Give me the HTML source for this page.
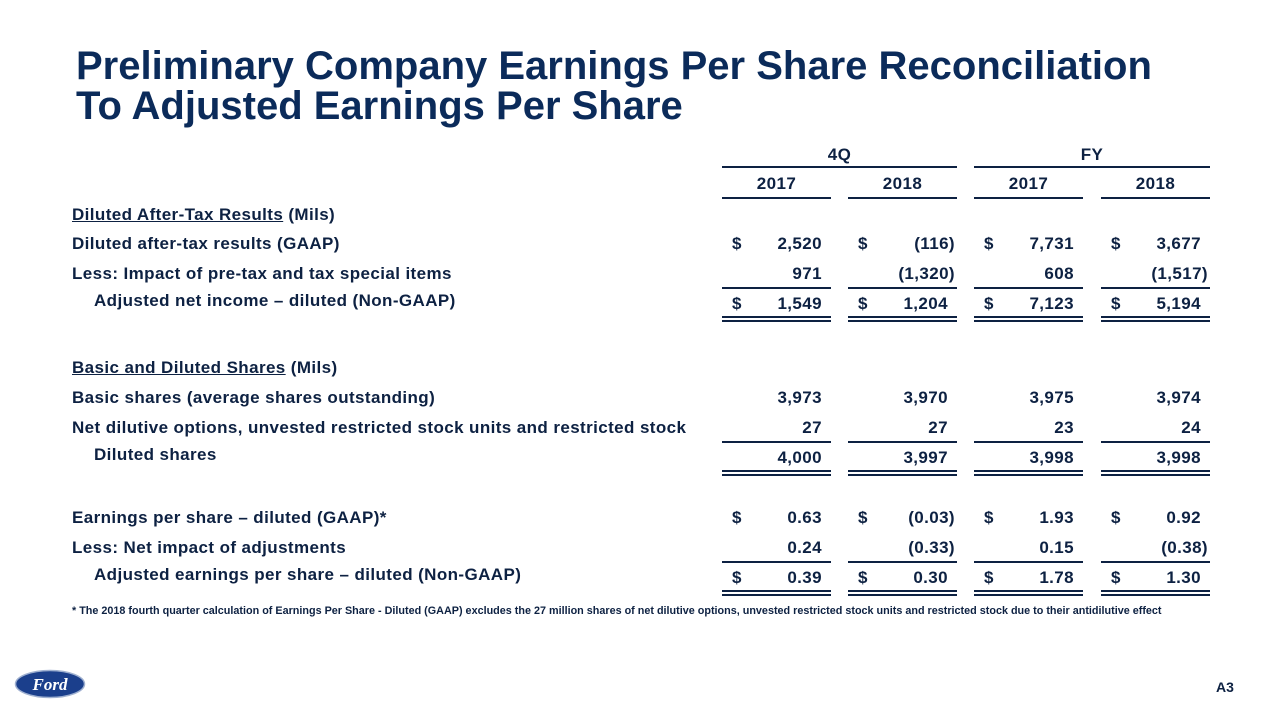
<!DOCTYPE html>
<html><head><meta charset="utf-8"><style>
body{margin:0;width:1280px;height:720px;background:#fff;position:relative;overflow:hidden;font-family:"Liberation Sans",Arial,sans-serif;font-weight:bold;color:#0d2142}
.t{position:absolute;font-size:40px;color:#0b2b5a;left:76px;line-height:44px;letter-spacing:0px}
.a{position:absolute;font-size:17px;letter-spacing:0.4px;line-height:20px;white-space:nowrap}
.ln{position:absolute;height:2px;background:#0d2142}
.r{text-align:right}
.c{text-align:center}
</style></head><body>
<div class="t" style="top:44px">Preliminary Company Earnings Per Share Reconciliation</div>
<div class="t" style="top:84px">To Adjusted Earnings Per Share</div>
<div id="tbl"></div>
<div class="a" style="left:72px;top:601px;font-size:10.8px;letter-spacing:0">* The 2018 fourth quarter calculation of Earnings Per Share - Diluted (GAAP) excludes the 27 million shares of net dilutive options, unvested restricted stock units and restricted stock due to their antidilutive effect</div>
<svg style="position:absolute;left:14px;top:669px" width="72" height="30"><ellipse cx="36" cy="15" rx="34.5" ry="13.5" fill="#1b3f8c" stroke="#9fb0d0" stroke-width="1.5"/><text x="36" y="21" text-anchor="middle" fill="#fff" font-family="Liberation Serif,serif" font-style="italic" font-weight="bold" font-size="17">Ford</text></svg>
<div class="a" style="left:1216px;top:677px;font-size:14px;letter-spacing:0">A3</div>
<script>
const colLeft=[722,848,974,1101], colW=109;
const groups=["4Q","FY"];
const years=["2017","2018","2017","2018"];
const labels=["Diluted after-tax results (GAAP)","Less:  Impact of pre-tax and tax special items","Adjusted net income – diluted (Non-GAAP)","Basic shares (average shares outstanding)","Net dilutive options, unvested restricted stock units and restricted stock","Diluted shares","Earnings per share – diluted (GAAP)*","Less:  Net impact of adjustments","Adjusted earnings per share – diluted (Non-GAAP)"];
const values=[["2,520","(116)","7,731","3,677"],["971","(1,320)","608","(1,517)"],["1,549","1,204","7,123","5,194"],["3,973","3,970","3,975","3,974"],["27","27","23","24"],["4,000","3,997","3,998","3,998"],["0.63","(0.03)","1.93","0.92"],["0.24","(0.33)","0.15","(0.38)"],["0.39","0.30","1.78","1.30"]];
const rowY=[244,274,304,398,428,458,518,548,578];
const indent=[0,0,1,0,0,1,0,0,1];
const dollar=[1,0,1,0,0,0,1,0,1];
const T=document.getElementById('tbl');
function add(cls,txt,l,t,w,name){const d=document.createElement('div');d.className=cls;d.textContent=txt;d.style.left=l+'px';d.style.top=t+'px';if(w)d.style.width=w+'px';


T.appendChild(d);return d;}
function line(l,t,w,name){const d=document.createElement('div');d.className='ln';d.style.left=l+'px';d.style.top=t+'px';d.style.width=w+'px';


T.appendChild(d);}
groups.forEach((g,i)=>{const l=colLeft[i*2],w=colLeft[i*2+1]+colW-l;add('a c',g,l,145,w,'group-header-'+g.toLowerCase());line(l,166,w,'group-rule');});
years.forEach((y,i)=>{add('a c',y,colLeft[i],174,colW,'year-header');line(colLeft[i],197,colW,'year-rule');});
const h1=add('a','',72,205,0,'section-header-after-tax');h1.innerHTML='<u>Diluted After-Tax Results</u> (Mils)';
const h2=add('a','',72,358,0,'section-header-shares');h2.innerHTML='<u>Basic and Diluted Shares</u> (Mils)';
labels.forEach((lb,r)=>{const y=rowY[r]-10;add('a',lb,indent[r]?94:72,y-(indent[r]?3:0),0,'row-label');
values[r].forEach((v,c)=>{const paren=v.startsWith('(');const right=colLeft[c]+colW-(paren?2:9);
if(dollar[r])add('a','$',colLeft[c]+10,y,0,'dollar-sign');
add('a r',v,right-110,y,110,'value-cell');});
if(r===1||r===4||r===7)values[r].forEach((v,c)=>line(colLeft[c],rowY[r]+13,colW,'subtotal-rule'));
if(indent[r])values[r].forEach((v,c)=>{line(colLeft[c],rowY[r]+12,colW,'total-rule');line(colLeft[c],rowY[r]+16,colW,'total-rule');});
});
</script>
</body></html>
